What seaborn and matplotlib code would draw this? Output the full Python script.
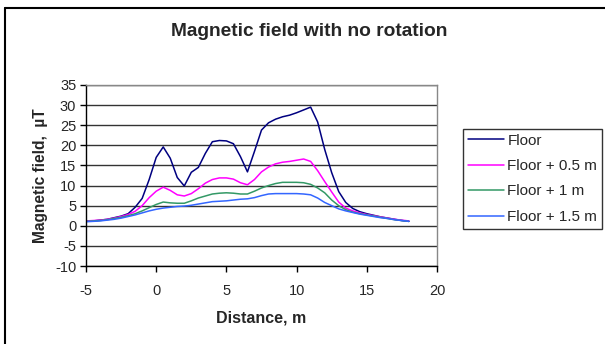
import numpy as np
import pandas as pd
import seaborn as sns
import matplotlib
matplotlib.use("Agg")
import matplotlib.pyplot as plt
from matplotlib.lines import Line2D

distance = [-5, -4.5, -4, -3.5, -3, -2.5, -2, -1.5, -1, -0.5, 0, 0.5, 1, 1.5, 2, 2.5, 3, 3.5,
            4, 4.5, 5, 5.5, 6, 6.5, 7, 7.5, 8, 8.5, 9, 9.5, 10, 10.5, 11, 11.5, 12, 12.5,
            13, 13.5, 14, 14.5, 15, 15.5, 16, 16.5, 17, 17.5, 18]

floor = [1.1, 1.2, 1.4, 1.6, 2.0, 2.4, 3.0, 4.6, 6.8, 11.5, 17.0, 19.6, 16.8, 12.0, 9.9, 13.3,
         14.5, 18.0, 20.9, 21.2, 21.1, 20.4, 17.2, 13.4, 18.5, 23.8, 25.6, 26.5, 27.1, 27.5,
         28.1, 28.8, 29.5, 25.8, 19.0, 13.2, 8.5, 5.8, 4.3, 3.5, 3.0, 2.6, 2.2, 1.9, 1.6, 1.3, 1.1]

floor_05 = [1.2, 1.3, 1.4, 1.6, 1.9, 2.3, 2.8, 3.6, 5.0, 7.0, 8.6, 9.6, 8.8, 7.7, 7.4, 8.0,
            9.2, 10.6, 11.5, 11.9, 11.9, 11.6, 10.7, 10.2, 11.5, 13.4, 14.6, 15.4, 15.8, 16.0,
            16.3, 16.6, 16.0, 13.7, 11.0, 8.4, 5.9, 4.4, 3.7, 3.2, 2.8, 2.5, 2.2, 1.9, 1.6, 1.4, 1.2]

floor_1 = [1.1, 1.2, 1.3, 1.5, 1.8, 2.1, 2.5, 3.0, 3.7, 4.5, 5.3, 5.9, 5.7, 5.6, 5.6, 6.2,
           6.9, 7.4, 7.9, 8.1, 8.2, 8.1, 7.9, 7.9, 8.6, 9.4, 10.0, 10.5, 10.8, 10.8,
           10.8, 10.7, 10.3, 9.4, 8.2, 6.4, 5.0, 4.0, 3.4, 3.0, 2.7, 2.4, 2.1, 1.8, 1.5, 1.3, 1.1]

floor_15 = [1.0, 1.1, 1.2, 1.4, 1.6, 1.9, 2.3, 2.7, 3.2, 3.7, 4.1, 4.4, 4.6, 4.8, 4.9, 5.1,
            5.4, 5.7, 6.0, 6.1, 6.2, 6.4, 6.6, 6.7, 7.0, 7.5, 7.9, 8.0, 8.0, 8.0,
            8.0, 7.9, 7.7, 6.9, 5.8, 5.0, 4.2, 3.7, 3.3, 2.9, 2.6, 2.3, 2.0, 1.8, 1.5, 1.3, 1.1]

series_names = ["Floor", "Floor + 0.5 m", "Floor + 1 m", "Floor + 1.5 m"]
colors = ["#000080", "#FF00FF", "#339966", "#3366FF"]

y_ticks = [-10, -5, 0, 5, 10, 15, 20, 25, 30, 35]
x_ticks = [-5, 0, 5, 10, 15, 20]

df = pd.DataFrame({"Distance": distance * 4,
                   "Field": floor + floor_05 + floor_1 + floor_15,
                   "Series": sum([[n] * len(distance) for n in series_names], [])})

sns.set_theme(style="white")
plt.rcParams["font.family"] = ["Liberation Sans", "DejaVu Sans"]

fig = plt.figure(figsize=(6.05, 3.44), dpi=100)
ax = fig.add_axes([86 / 605, 1 - 266 / 344, 351 / 605, 181 / 344])

sns.lineplot(data=df, x="Distance", y="Field", hue="Series", palette=colors,
             hue_order=series_names, ax=ax, linewidth=1.1, legend=True)

ax.set_xlim(-5, 20)
ax.set_ylim(-10, 35)
ax.set_xticks(x_ticks)
ax.set_yticks(y_ticks)
ax.set_xticklabels([str(t) for t in x_ticks], fontsize=10.5)
ax.set_yticklabels([str(t) for t in y_ticks], fontsize=10.5)
ax.tick_params(axis="both", direction="out", length=4, width=1, color="black",
               bottom=True, left=True, pad=3)
ax.tick_params(axis="x", pad=9)
ax.grid(axis="y", color="#333333", linewidth=1)
ax.set_axisbelow(True)
for s in ["top", "right"]:
    ax.spines[s].set_color("#888888")
    ax.spines[s].set_linewidth(1)
for s in ["left", "bottom"]:
    ax.spines[s].set_color("black")
    ax.spines[s].set_linewidth(1)

ax.set_xlabel("Distance, m", fontsize=11.5, fontweight="bold", labelpad=9)
ax.set_ylabel("Magnetic field,  µT", fontsize=11.2, fontweight="bold", labelpad=5)

fig.text(309 / 605, 1 - 31 / 344, "Magnetic field with no rotation", ha="center", va="center",
         fontsize=13.8, fontweight="bold")

handles, labels = ax.get_legend_handles_labels()
ax.legend_.remove()
leg = fig.legend(handles, labels, loc="upper left",
                 bbox_to_anchor=(463 / 605, 1 - 129 / 344), fontsize=11,
                 frameon=True, fancybox=False, edgecolor="black", handlelength=2.4,
                 handletextpad=0.2, labelspacing=0.75, borderpad=0.3, borderaxespad=0)
leg.get_frame().set_linewidth(1)

# outer chart frame
fig.add_artist(Line2D([5 / 605, 5 / 605], [1 - 8 / 344, 0], transform=fig.transFigure,
                      color="black", linewidth=1.5))
fig.add_artist(Line2D([5 / 605, 1], [1 - 8 / 344, 1 - 8 / 344], transform=fig.transFigure,
                      color="black", linewidth=1.5))

fig.savefig("out.png", dpi=100)
